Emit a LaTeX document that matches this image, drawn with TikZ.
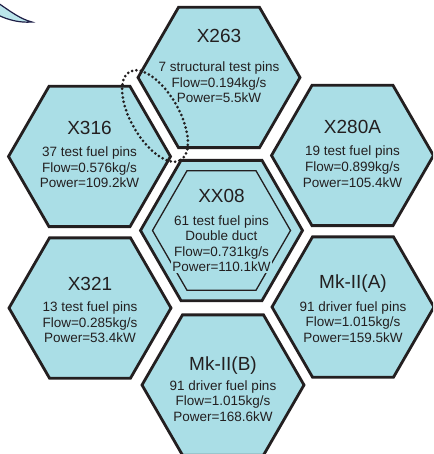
\documentclass[tikz,border=0pt]{standalone}
\usepackage{fontspec}
\setmainfont{Liberation Sans}
\usetikzlibrary{shapes.geometric}
\definecolor{hexfill}{RGB}{170,222,230}
\definecolor{ink}{RGB}{35,31,32}
\definecolor{navy}{RGB}{30,30,70}
\tikzset{
  hexbox/.style={regular polygon, regular polygon sides=6, minimum size=162pt, inner sep=0pt, outer sep=0pt, draw=ink, fill=hexfill, line width=2.8pt},
  innerhex/.style={regular polygon, regular polygon sides=6, minimum size=138pt, inner sep=0pt, outer sep=0pt, draw=ink, line width=1.3pt},
  titletext/.style={font=\fontsize{19}{21}\selectfont, text=ink, inner sep=0pt, anchor=base},
  bodytext/.style={font=\fontsize{13.5}{15.6}\selectfont, text=ink, inner sep=0pt, anchor=base},
  markring/.style={ellipse, draw=ink, line width=3pt, dash pattern=on 0pt off 4.4pt, line cap=round, minimum width=102pt, minimum height=48pt, inner sep=0pt}
}
\newcommand\hexcell[9]{%
  \node[hexbox] (#1) at (#2,#3) {};
  \node[titletext] (#1-t) at ({#2},{#3+(#5)}) {#4};
  \node[bodytext] (#1-a) at ({#2},{#3+(#6)}) {#7};
  \node[bodytext] (#1-b) at ({#2},{#3+(#6)+15.8}) {#8};
  \node[bodytext] (#1-c) at ({#2},{#3+(#6)+31.4}) {#9};
}
\begin{document}
\begin{tikzpicture}[x=1pt,y=-1pt]
\useasboundingbox (0,0) rectangle (433,454);
\clip (0,0) rectangle (433,454);
% partial shape at top-left corner
\draw[navy, fill=hexfill!80, line width=1.2pt]
  (-2,3) .. controls (10,11) and (20,19) .. (32,22)
  .. controls (20,23) and (8,20) .. (-2,15) -- cycle;
\hexcell{x263}{219}{77.5}{X263}{-35}{-6}{7 structural test pins}{Flow=0.194kg/s}{Power=5.5kW}
\hexcell{x316}{89.5}{156.5}{X316}{-21.5}{0}{37 test fuel pins}{Flow=0.576kg/s}{Power=109.2kW}
\hexcell{x280}{352.5}{155.5}{X280A}{-22}{0.5}{19 test fuel pins}{Flow=0.899kg/s}{Power=105.4kW}
\hexcell{x321}{90}{308}{X321}{-18}{3.5}{13 test fuel pins}{Flow=0.285kg/s}{Power=53.4kW}
\hexcell{mka}{353}{307}{Mk-II(A)}{-19}{4}{91 driver fuel pins}{Flow=1.015kg/s}{Power=159.5kW}
\hexcell{mkb}{223}{385}{Mk-II(B)}{-15}{5}{91 driver fuel pins}{Flow=1.015kg/s}{Power=168.6kW}
% centre double-duct assembly
\node[hexbox] (xx08) at (221.5,230.5) {};
\node[innerhex] (xx08in) at (221.5,230.5) {};
\node[titletext] (xx08-t) at (221.5,202.5) {XX08};
\node[bodytext] (xx08-a) at (221.5,225) {61 test fuel pins};
\node[bodytext] (xx08-b) at (221.5,240.6) {Double duct};
\node[bodytext] (xx08-c) at (221.5,256.2) {Flow=0.731kg/s};
\node[bodytext, fill=hexfill, inner sep=1pt] (xx08-d) at (221.5,271.8) {Power=110.1kW};
% dotted ring
\node[markring, rotate=-60] (ring) at (155,116) {};
\end{tikzpicture}
\end{document}
